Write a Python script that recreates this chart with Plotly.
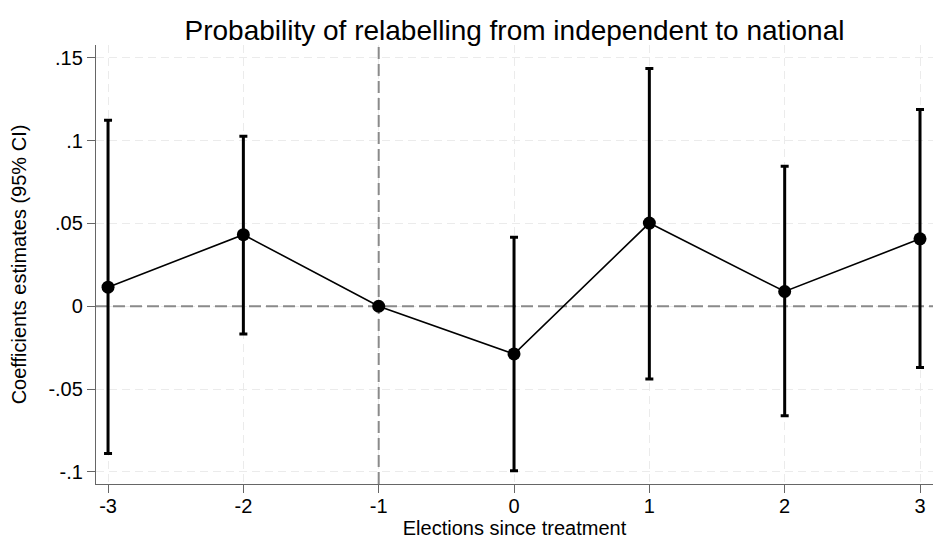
import plotly.graph_objects as go

# Data
periods = [-3, -2, -1, 0, 1, 2, 3]
estimates = [0.0115, 0.0432, 0.0, -0.0288, 0.0502, 0.0089, 0.0407]
ci_lower = [-0.0889, -0.0167, None, -0.0993, -0.0439, -0.0661, -0.0369]
ci_upper = [0.1123, 0.1026, None, 0.0417, 0.1435, 0.0845, 0.1187]
y_tickvals = [-0.1, -0.05, 0, 0.05, 0.1, 0.15]
y_ticktext = ["-.1", "-.05", "0", ".05", ".1", ".15"]
x_ticktext = ["-3", "-2", "-1", "0", "1", "2", "3"]
x_range = [-3.089, 3.096]
y_range = [-0.1073, 0.1577]
ref_x = -1
ref_y = 0

err_plus = [None if u is None else u - e for u, e in zip(ci_upper, estimates)]
err_minus = [None if l is None else e - l for l, e in zip(ci_lower, estimates)]

FONT = "Liberation Sans, Arial, sans-serif"
REF_LINE = dict(color="#8a8a8a", width=2, dash="12px,5px")

fig = go.Figure()

# reference lines (drawn above gridlines, below the estimates)
fig.add_trace(go.Scatter(x=x_range, y=[ref_y, ref_y], mode="lines", line=REF_LINE,
                         hoverinfo="skip", showlegend=False))
fig.add_trace(go.Scatter(x=[ref_x, ref_x], y=y_range, mode="lines", line=REF_LINE,
                         hoverinfo="skip", showlegend=False))

fig.add_trace(go.Scatter(
    x=periods, y=estimates,
    mode="lines+markers",
    line=dict(color="black", width=1.6),
    marker=dict(color="black", size=13),
    error_y=dict(type="data", symmetric=False, array=err_plus, arrayminus=err_minus,
                 color="black", thickness=3, width=4),
    showlegend=False,
))

fig.update_layout(
    width=935, height=545,
    margin=dict(l=96, r=2, t=45, b=61),
    paper_bgcolor="white", plot_bgcolor="white",
    font=dict(family=FONT, size=20, color="black"),
    title=dict(text="Probability of relabelling from independent to national",
               x=0.5, xref="paper", xanchor="center", y=0.945, yref="container",
               yanchor="middle", font=dict(size=28, color="black")),
    xaxis=dict(
        range=x_range, tickvals=periods, ticktext=x_ticktext,
        showgrid=True, gridcolor="#ebebeb", gridwidth=1.2, griddash="8px,5px",
        zeroline=False, showline=True, linecolor="#666666", linewidth=1.3,
        ticks="outside", ticklen=8, tickcolor="#666666", tickwidth=1.3,
        tickfont=dict(size=20), ticklabelstandoff=-4,
        title=dict(text="Elections since treatment", font=dict(size=20), standoff=4),
    ),
    yaxis=dict(
        range=y_range, tickvals=y_tickvals, ticktext=y_ticktext,
        showgrid=True, gridcolor="#ebebeb", gridwidth=1.2, griddash="8px,5px",
        zeroline=False, showline=True, linecolor="#666666", linewidth=1.3,
        ticks="outside", ticklen=8, tickcolor="#666666", tickwidth=1.3,
        tickfont=dict(size=20),
        title=dict(text="Coefficients estimates (95% CI)", font=dict(size=20), standoff=16),
    ),
)

fig.write_html("out.html")
